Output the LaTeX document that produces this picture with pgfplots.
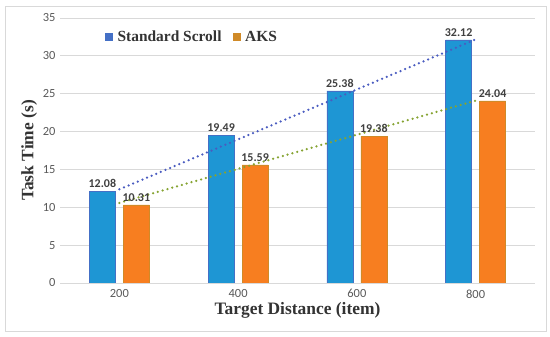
\documentclass[border=0pt]{standalone}
\usepackage{pgfplots}
\pgfplotsset{compat=1.18}
\usepackage{fontspec}
\setmainfont{Liberation Serif}
\newfontfamily\carlito{Carlito}
\definecolor{barblue}{HTML}{1E96D4}
\definecolor{barblueedge}{HTML}{4470C6}
\definecolor{barorange}{HTML}{F77E20}
\definecolor{barorangeedge}{HTML}{D08A28}
\definecolor{trendblue}{HTML}{4A5CC0}
\definecolor{trendgreen}{HTML}{86A332}
\definecolor{gridgrey}{HTML}{D9D9D9}
\definecolor{ticktext}{HTML}{595959}
\definecolor{valtext}{HTML}{404040}
\begin{document}
\begin{tikzpicture}
\useasboundingbox (-60bp,-54bp) rectangle (490bp,283bp);
\draw[gridgrey, line width=0.8bp] (-55bp,-48bp) rectangle (486bp,277bp);
\begin{axis}[
  at={(0,0)}, anchor=south west,
  scale only axis, width=475bp, height=265bp,
  xmin=-0.5, xmax=3.5, ymin=0, ymax=35,
  xtick={0,1,2,3}, xticklabels={200,400,600,800},
  ytick={0,5,10,15,20,25,30,35},
  axis line style={draw=none},
  major tick style={draw=none},
  ymajorgrids, grid style={gridgrey, line width=0.8bp},
  tick label style={font=\carlito\fontsize{12.5}{14}\selectfont, text=ticktext},
  /pgf/number format/assume math mode=true,
  yticklabel style={xshift=-1bp},
  xticklabel style={yshift=-3bp},
  xlabel={\textbf{Target Distance (item)}},
  ylabel={\textbf{Task Time (s)}},
  label style={font=\fontsize{17.5}{20}\selectfont, text=black!80},
  xlabel style={yshift=3bp},
  ylabel style={yshift=-1bp},
  legend style={draw=none, fill=none, at={(0.088,0.968)}, anchor=north west,
    font=\fontsize{15.5}{18}\selectfont\bfseries, text=black!80,
    /tikz/every even column/.append style={column sep=9bp}},
  legend columns=2,
  nodes near coords style={font=\carlito\bfseries\fontsize{12}{14}\selectfont, text=valtext},
]
\addplot[ybar, bar width=26bp, bar shift=-17bp, fill=barblue, draw=barblueedge, line width=0.6bp,
  nodes near coords, point meta=explicit symbolic,
  every node near coord/.append style={xshift=-17bp, anchor=south},
  legend image code/.code={\fill[barblueedge] (0bp,-3.5bp) rectangle (7bp,3.5bp);}]
  coordinates {(0,12.08) [12.08] (1,19.49) [19.49] (2,25.38) [25.38] (3,32.12) [32.12]};
\addlegendentry{\hspace{3bp}Standard Scroll}
\addplot[ybar, bar width=26bp, bar shift=17bp, fill=barorange, draw=barorangeedge, line width=0.6bp,
  nodes near coords, point meta=explicit symbolic,
  every node near coord/.append style={xshift=17bp, anchor=south},
  legend image code/.code={\fill[barorangeedge] (0bp,-3.5bp) rectangle (7bp,3.5bp);}]
  coordinates {(0,10.31) [10.31] (1,15.59) [15.59] (2,19.38) [19.38] (3,24.04) [24.04]};
\addlegendentry{\hspace{3bp}AKS}
\addplot[trendblue, line width=2.5bp, line cap=round, dash pattern=on 0bp off 5bp, forget plot]
  coordinates {(0,12.37) (3,32.17)};
\addplot[trendgreen, line width=2.5bp, line cap=round, dash pattern=on 0bp off 5bp, forget plot]
  coordinates {(0,10.58) (3,24.08)};
\end{axis}
\end{tikzpicture}
\end{document}
